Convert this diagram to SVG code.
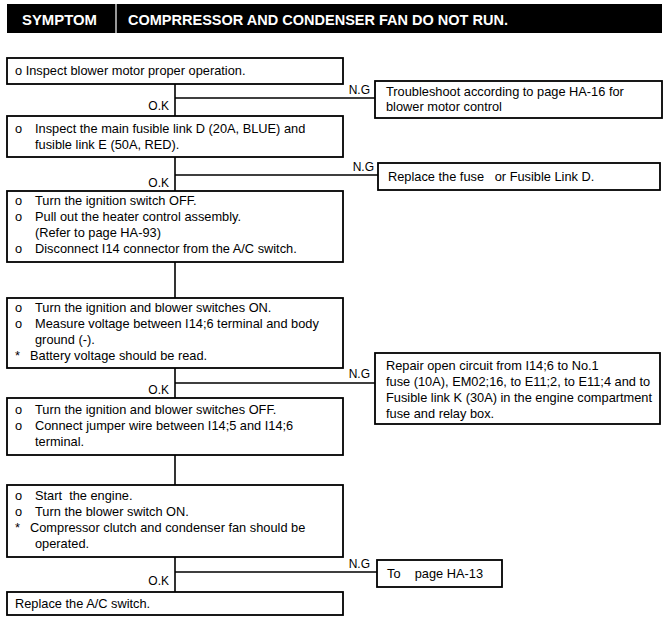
<svg xmlns="http://www.w3.org/2000/svg" width="667" height="618" viewBox="0 0 667 618">
<style>
.box{fill:#fff;stroke:#000;stroke-width:1.8}
.ln{fill:none;stroke:#000;stroke-width:1.6}
.t{font-family:"Liberation Sans",Arial,sans-serif;font-size:12.8px;fill:#000;white-space:pre}
.l{font-family:"Liberation Sans",Arial,sans-serif;font-size:12px;fill:#000;text-anchor:end}
.h{font-family:"Liberation Sans",Arial,sans-serif;font-size:15px;font-weight:bold;fill:#fff}
</style>
<rect width="667" height="618" fill="#fff"/>
<g id="header">
<rect x="7" y="4" width="655" height="29" fill="#000"/>
<line x1="116" y1="4" x2="116" y2="33" stroke="#fff" stroke-width="1.2"/>
<text class="h" x="22" y="25" textLength="75" lengthAdjust="spacingAndGlyphs">SYMPTOM</text>
<text class="h" x="128" y="25" textLength="380" lengthAdjust="spacingAndGlyphs">COMPRRESSOR AND CONDENSER FAN DO NOT RUN.</text>
</g>
<g id="connectors">
<path class="ln" d="M175 84V116M175 98H375"/>
<path class="ln" d="M175 157V191M175 175H378"/>
<path class="ln" d="M175 262V298"/>
<path class="ln" d="M175 368V398M175 383H375"/>
<path class="ln" d="M175 455V485"/>
<path class="ln" d="M175 557V592M175 572H377"/>
<text class="l" x="169" y="110">O.K</text>
<text class="l" x="370" y="94">N.G</text>
<text class="l" x="169" y="187">O.K</text>
<text class="l" x="374" y="171">N.G</text>
<text class="l" x="169" y="394">O.K</text>
<text class="l" x="370" y="378">N.G</text>
<text class="l" x="169" y="585">O.K</text>
<text class="l" x="370" y="568">N.G</text>
</g>
<g id="step1">
<rect class="box" x="7" y="58" width="336" height="26"/>
<text class="t" x="15" y="75">o Inspect blower motor proper operation.</text>
</g>
<g id="ng1">
<rect class="box" x="375" y="81" width="287" height="37"/>
<text class="t" x="386" y="96">Troubleshoot according to page HA-16 for</text>
<text class="t" x="386" y="111">blower motor control</text>
</g>
<g id="step2">
<rect class="box" x="7" y="116" width="336" height="41"/>
<text class="t" x="15" y="133">o</text>
<text class="t" x="35" y="133">Inspect the main fusible link D (20A, BLUE) and</text>
<text class="t" x="35" y="149">fusible link E (50A, RED).</text>
</g>
<g id="ng2">
<rect class="box" x="378" y="163" width="282" height="27"/>
<text class="t" x="388" y="181">Replace the fuse   or Fusible Link D.</text>
</g>
<g id="step3">
<rect class="box" x="7" y="191" width="336" height="71"/>
<text class="t" x="15" y="205">o</text>
<text class="t" x="35" y="205">Turn the ignition switch OFF.</text>
<text class="t" x="15" y="221">o</text>
<text class="t" x="35" y="221">Pull out the heater control assembly.</text>
<text class="t" x="35" y="237">(Refer to page HA-93)</text>
<text class="t" x="15" y="253">o</text>
<text class="t" x="35" y="253">Disconnect I14 connector from the A/C switch.</text>
</g>
<g id="step4">
<rect class="box" x="7" y="298" width="336" height="70"/>
<text class="t" x="15" y="312">o</text>
<text class="t" x="35" y="312">Turn the ignition and blower switches ON.</text>
<text class="t" x="15" y="328">o</text>
<text class="t" x="35" y="328">Measure voltage between I14;6 terminal and body</text>
<text class="t" x="35" y="344">ground (-).</text>
<text class="t" x="15" y="360">*</text>
<text class="t" x="30" y="360">Battery voltage should be read.</text>
</g>
<g id="ng3">
<rect class="box" x="375" y="353" width="285" height="71"/>
<text class="t" x="386" y="370">Repair open circuit from I14;6 to No.1</text>
<text class="t" x="386" y="386">fuse (10A), EM02;16, to E11;2, to E11;4 and to</text>
<text class="t" x="386" y="402">Fusible link K (30A) in the engine compartment</text>
<text class="t" x="386" y="418">fuse and relay box.</text>
</g>
<g id="step5">
<rect class="box" x="7" y="398" width="336" height="57"/>
<text class="t" x="15" y="414">o</text>
<text class="t" x="35" y="414">Turn the ignition and blower switches OFF.</text>
<text class="t" x="15" y="430">o</text>
<text class="t" x="35" y="430">Connect jumper wire between I14;5 and I14;6</text>
<text class="t" x="35" y="446">terminal.</text>
</g>
<g id="step6">
<rect class="box" x="7" y="485" width="336" height="72"/>
<text class="t" x="15" y="500">o</text>
<text class="t" x="35" y="500">Start  the engine.</text>
<text class="t" x="15" y="516">o</text>
<text class="t" x="35" y="516">Turn the blower switch ON.</text>
<text class="t" x="15" y="532">*</text>
<text class="t" x="30" y="532">Compressor clutch and condenser fan should be</text>
<text class="t" x="35" y="548">operated.</text>
</g>
<g id="ng4">
<rect class="box" x="377" y="560" width="125" height="27"/>
<text class="t" x="387" y="578">To    page HA-13</text>
</g>
<g id="step7">
<rect class="box" x="7" y="592" width="336" height="23"/>
<text class="t" x="15" y="608">Replace the A/C switch.</text>
</g>
</svg>
